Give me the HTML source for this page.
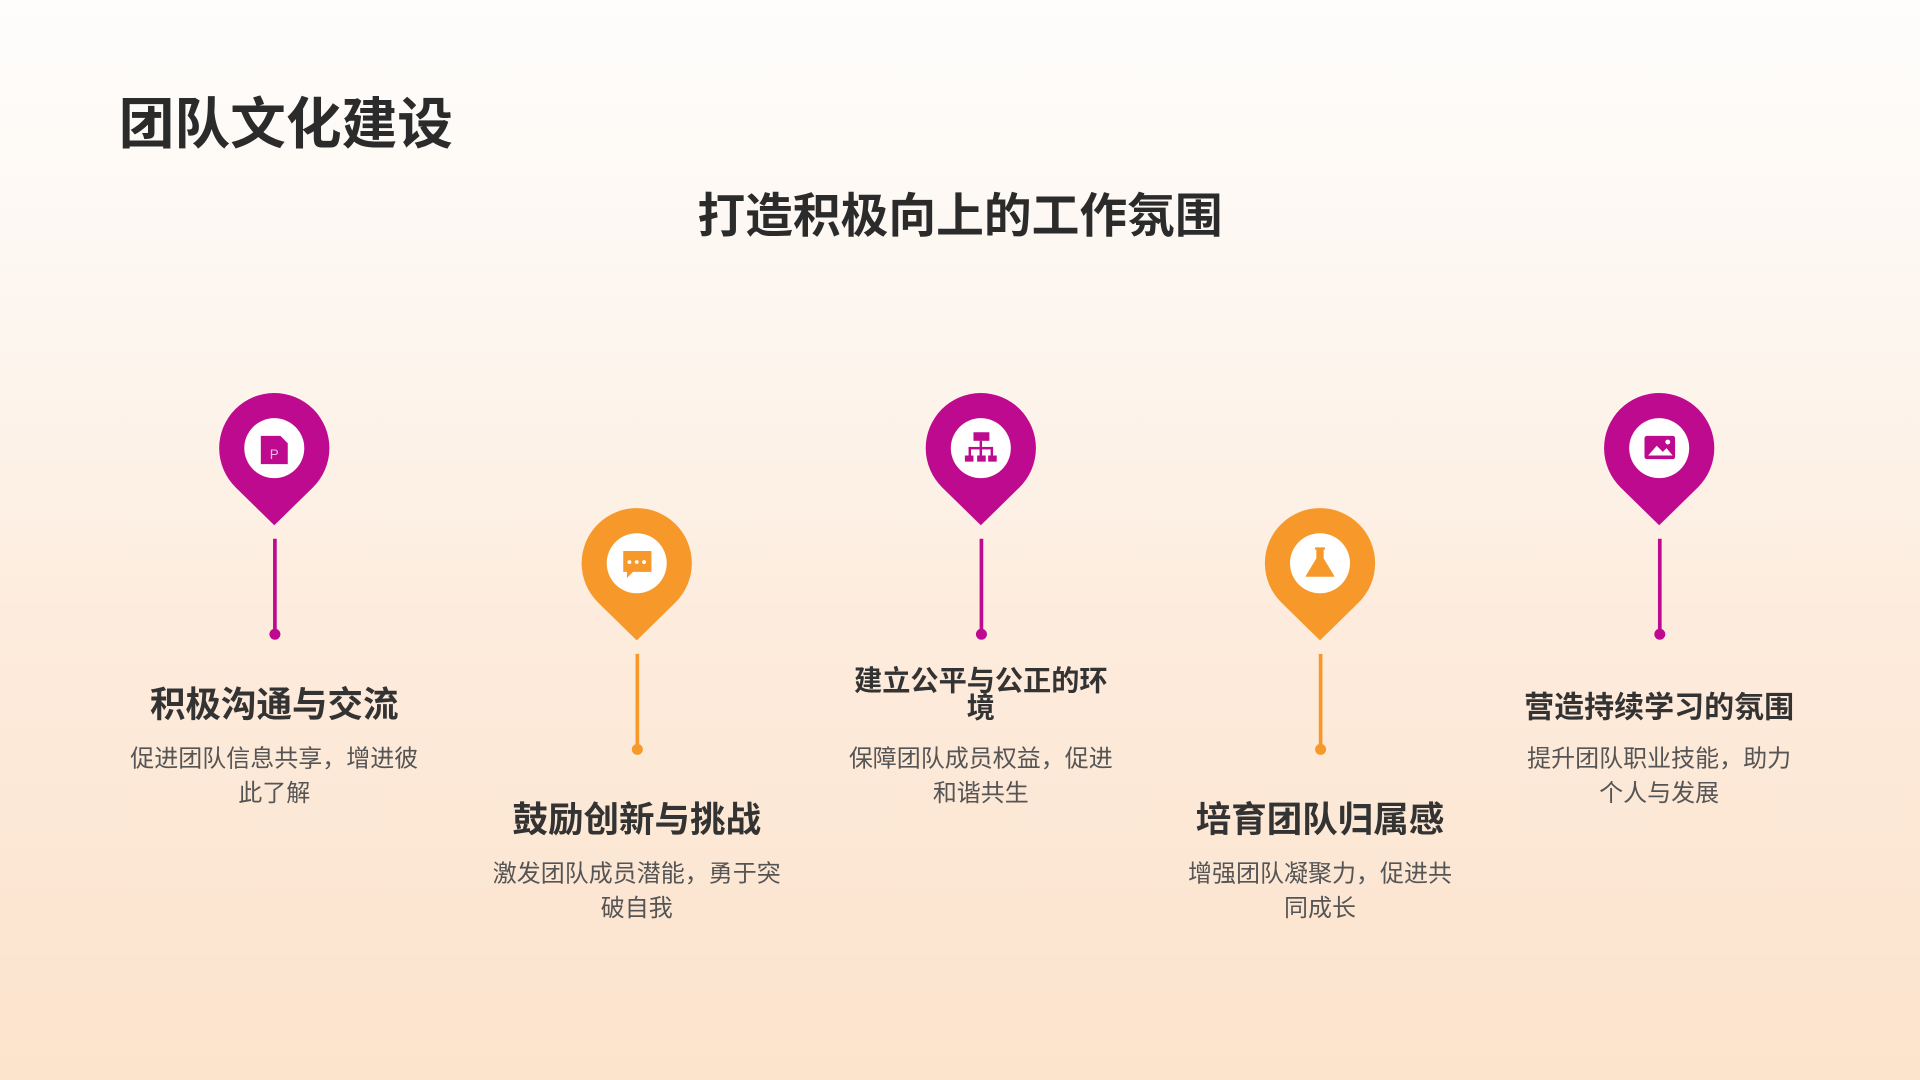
<!DOCTYPE html>
<html><head><meta charset="utf-8"><style>
html,body{margin:0;padding:0;width:1920px;height:1080px;overflow:hidden}
body{background:linear-gradient(180deg,#fefdfc 0%,#fdf6ef 30%,#fdebdc 60%,#fce3cc 100%)}
svg{display:block}
text{font-family:"Liberation Sans","Noto Sans CJK SC",sans-serif}
</style></head><body>
<svg width="1920" height="1080" viewBox="0 0 1568 882" xmlns="http://www.w3.org/2000/svg">
<defs>
<g id="pin"><path d="M-31.5,32.1 A45,45 0 1 1 31.5,32.1 L0,63 Z"/><circle r="24.5" fill="#fff"/></g>
</defs>
<text x="97" y="117" font-size="45.5" font-weight="bold" fill="#2b2b2b">团队文化建设</text>
<text x="784" y="190" font-size="39" font-weight="bold" fill="#2b2b2b" text-anchor="middle">打造积极向上的工作氛围</text>

<g fill="#be0a8f">
<use href="#pin" x="224" y="366"/><use href="#pin" x="801" y="366"/><use href="#pin" x="1355" y="366"/>
<rect x="223" y="440" width="3" height="78"/><circle cx="224.5" cy="518" r="4.5"/>
<rect x="800" y="440" width="3" height="78"/><circle cx="801.5" cy="518" r="4.5"/>
<rect x="1354" y="440" width="3" height="78"/><circle cx="1355.5" cy="518" r="4.5"/>
</g>
<g fill="#f7982a">
<use href="#pin" x="520" y="460"/><use href="#pin" x="1078" y="460"/>
<rect x="519" y="534" width="3" height="78"/><circle cx="520.5" cy="612" r="4.5"/>
<rect x="1077" y="534" width="3" height="78"/><circle cx="1078.5" cy="612" r="4.5"/>
</g>

<g fill="#be0a8f">
<path d="M213,356 h16 l6,6 v17 h-22 z"/>
<text x="224" y="375" font-size="11" fill="#f5b8e0" text-anchor="middle">P</text>
<rect x="795" y="353" width="13" height="7"/><rect x="800" y="360" width="2" height="5"/>
<rect x="791" y="365" width="20" height="2"/>
<rect x="791" y="365" width="2" height="7"/><rect x="800" y="365" width="2" height="7"/><rect x="809" y="365" width="2" height="7"/>
<rect x="788" y="372" width="7" height="5"/><rect x="798" y="372" width="7" height="5"/><rect x="807" y="372" width="7" height="5"/>
<rect x="1343" y="356" width="25" height="19" rx="2"/>
<path d="M1346,372 l7,-8 5,5 3,-3 5,6 z" fill="#fff"/><circle cx="1362" cy="361" r="2" fill="#fff"/>
</g>
<g fill="#f7982a">
<path d="M509,450 h23 v17 h-15 l-5,5 v-5 h-3 z"/>
<circle cx="514" cy="459" r="1.6" fill="#fff"/><circle cx="520" cy="459" r="1.6" fill="#fff"/><circle cx="526" cy="459" r="1.6" fill="#fff"/>
<path d="M1074,447 h8 v2 h-1 v7 l9,15 h-24 l9,-15 v-7 h-1 z"/>
</g>

<g fill="#333" font-weight="bold" text-anchor="middle">
<text x="224" y="585" font-size="29">积极沟通与交流</text>
<text x="520" y="679" font-size="29">鼓励创新与挑战</text>
<text x="801" y="564" font-size="23">建立公平与公正的环</text>
<text x="801" y="586" font-size="23">境</text>
<text x="1355" y="586" font-size="24.5">营造持续学习的氛围</text>
<text x="1078" y="679" font-size="29">培育团队归属感</text>
</g>
<g fill="#555" font-size="19.6" text-anchor="middle">
<text x="224" y="626">促进团队信息共享，增进彼</text><text x="224" y="654">此了解</text>
<text x="520" y="720">激发团队成员潜能，勇于突</text><text x="520" y="748">破自我</text>
<text x="801" y="626">保障团队成员权益，促进</text><text x="801" y="654">和谐共生</text>
<text x="1078" y="720">增强团队凝聚力，促进共</text><text x="1078" y="748">同成长</text>
<text x="1355" y="626">提升团队职业技能，助力</text><text x="1355" y="654">个人与发展</text>
</g>
</svg>
</body></html>
